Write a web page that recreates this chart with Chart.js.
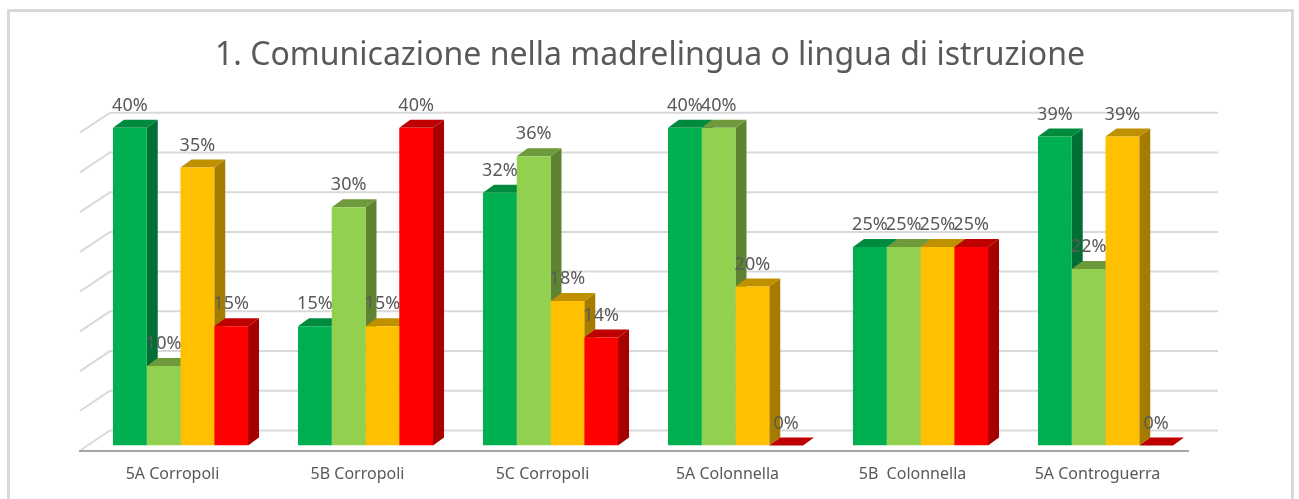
<!DOCTYPE html>
<html>
<head>
<meta charset="utf-8">
<style>
html,body{margin:0;padding:0;background:#fff;width:1299px;height:499px;overflow:hidden}
#w{position:relative;width:1299px;height:499px}
canvas{display:block}
</style>
<script src="https://cdn.jsdelivr.net/npm/chart.js@4/dist/chart.umd.min.js"></script>
</head>
<body>
<div id="w"><canvas id="c" width="1299" height="499"></canvas></div>
<script>
const chartTitle = "1. Comunicazione nella madrelingua o lingua di istruzione";
const categories = ["5A Corropoli","5B Corropoli","5C Corropoli","5A Colonnella","5B  Colonnella","5A Controguerra"];
const seriesNames = ["Serie 1","Serie 2","Serie 3","Serie 4"];
const series1 = [40,15,31.8,40,25,38.9];
const series2 = [10,30,36.4,40,25,22.2];
const series3 = [35,15,18.2,20,25,38.9];
const series4 = [15,40,13.6,0,25,0];
const frontColors = ["#00B050","#92D050","#FFC000","#FF0000"];
const sideColors  = ["#006F35","#5F8431","#A67C00","#A60000"];
const topColors   = ["#008A3E","#6F9A3C","#BF9000","#BF0000"];
const gridTicks = [0,5,10,15,20,25,30,35,40];
const textColor = "#595959";
const fontName = "'Noto Sans', 'Open Sans', sans-serif";
const DX = 11, DY = 8;            // bar depth
const WALL_DX = 30, WALL_DY = 20; // floor depth

function poly(ctx, pts, fill){
  ctx.beginPath();
  pts.forEach((p,i)=> i ? ctx.lineTo(p[0],p[1]) : ctx.moveTo(p[0],p[1]));
  ctx.closePath();
  ctx.fillStyle = fill;
  ctx.fill();
}

const depth3d = {
  id:"depth3d",
  afterLayout(chart){
    chart.titleBlock.left += 7;
    chart.titleBlock.right += 7;
  },
  beforeDraw(chart){
    const ctx = chart.ctx;
    ctx.save();
    ctx.strokeStyle = "#D9D9D9";
    ctx.lineWidth = 3;
    ctx.beginPath();
    ctx.moveTo(8.5,499); ctx.lineTo(8.5,10.5); ctx.lineTo(1292.5,10.5); ctx.lineTo(1292.5,499);
    ctx.stroke();
    ctx.restore();
  },
  beforeDatasetsDraw(chart){
    const ctx = chart.ctx, y = chart.scales.y, base = y.bottom;
    const wallLeft = 110, wallRight = 1218;
    ctx.save();
    ctx.strokeStyle = "#D9D9D9";
    ctx.lineWidth = 2;
    gridTicks.forEach(v=>{
      const py = y.getPixelForValue(v) - 15;
      ctx.beginPath();
      ctx.moveTo(wallLeft - WALL_DX, py + WALL_DY);
      ctx.lineTo(wallLeft, py);
      ctx.lineTo(wallRight, py);
      ctx.stroke();
    });
    ctx.strokeStyle = "#A6A6A6";
    ctx.beginPath();
    ctx.moveTo(79, base + 5.5);
    ctx.lineTo(1189, base + 5.5);
    ctx.stroke();
    // side and top faces, left to right; the front faces are drawn over them by the library
    chart.data.datasets.forEach((ds,i)=>{
      chart.getDatasetMeta(i).data.forEach(bar=>{
        const l = bar.x - bar.width/2, r = bar.x + bar.width/2, t = bar.y;
        if (base - t > 0.5) {
          poly(ctx,[[r,t],[r+DX,t-DY],[r+DX,base-DY],[r,base]],sideColors[i]);
        }
        poly(ctx,[[l,t],[l+DX,t-DY],[r+DX,t-DY],[r,t]],topColors[i]);
      });
    });
    ctx.restore();
  },
  afterDatasetsDraw(chart){
    const ctx = chart.ctx;
    ctx.save();
    ctx.font = "18px " + fontName;
    ctx.fillStyle = textColor;
    ctx.textAlign = "center";
    ctx.textBaseline = "middle";
    chart.data.datasets.forEach((ds,i)=>{
      chart.getDatasetMeta(i).data.forEach((bar,j)=>{
        ctx.fillText(Math.round(ds.data[j]) + "%", bar.x, bar.y - 22);
      });
    });
    ctx.restore();
  }
};

const allSeries = [series1,series2,series3,series4];
new Chart(document.getElementById("c"),{
  type:"bar",
  data:{
    labels:categories,
    datasets:allSeries.map((d,i)=>({
      label:seriesNames[i],
      data:d,
      backgroundColor:frontColors[i],
      borderWidth:0,
      barPercentage:1,
      categoryPercentage:0.73
    }))
  },
  options:{
    responsive:false,
    animation:false,
    layout:{padding:{left:88,right:101,top:0,bottom:0}},
    plugins:{
      legend:{display:false},
      tooltip:{enabled:false},
      title:{
        display:true,
        text:chartTitle,
        color:textColor,
        font:{family:fontName,size:32,weight:"normal"},
        padding:{top:37,bottom:52.3}
      }
    },
    scales:{
      x:{
        grid:{display:false},
        border:{display:false},
        ticks:{color:textColor,font:{family:fontName,size:16},labelOffset:-8,maxRotation:0,autoSkip:false,padding:11},
        afterFit(s){ s.height = 53.5; }
      },
      y:{display:false,min:0,max:40}
    }
  },
  plugins:[depth3d]
});
</script>
</body>
</html>
